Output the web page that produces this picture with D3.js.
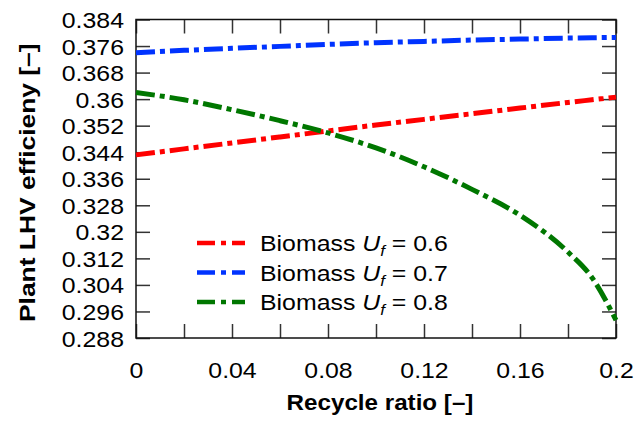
<!DOCTYPE html>
<html>
<head>
<meta charset="utf-8">
<script src="https://cdn.jsdelivr.net/npm/d3@7"></script>
<style>
  html, body { margin: 0; padding: 0; background: #fff; }
  svg { display: block; }
  text { font-family: "Liberation Sans", Arial, sans-serif; fill: #000; }
</style>
</head>
<body>
<svg id="chart" width="637" height="421"></svg>
<script>
// ---- data ----
const recycle = [0, 0.02, 0.04, 0.06, 0.08, 0.10, 0.12, 0.14, 0.16, 0.18, 0.19, 0.20];
const effUf06 = [0.3432, 0.3450, 0.3468, 0.3486, 0.3504, 0.3522, 0.3539, 0.3556, 0.3573, 0.3590, 0.3598, 0.3606];
const effUf07 = [0.3740, 0.3747, 0.3753, 0.3759, 0.3765, 0.3770, 0.3774, 0.3778, 0.3781, 0.3784, 0.3785, 0.3786];
const effUf08 = [0.3620, 0.3598, 0.3568, 0.3535, 0.3498, 0.3453, 0.3396, 0.3328, 0.3250, 0.3139, 0.3062, 0.2934];
const seriesNames = ["0.6", "0.7", "0.8"];
const seriesColors = ["#ff0000", "#0033ff", "#007700"];
const xTickValues = [0, 0.02, 0.04, 0.06, 0.08, 0.10, 0.12, 0.14, 0.16, 0.18, 0.20];
const xLabelValues = [0, 0.04, 0.08, 0.12, 0.16, 0.20];
const xLabelText = ["0", "0.04", "0.08", "0.12", "0.16", "0.2"];
const yTickValues = [0.288, 0.296, 0.304, 0.312, 0.320, 0.328, 0.336, 0.344, 0.352, 0.360, 0.368, 0.376, 0.384];
const yLabelText = ["0.288", "0.296", "0.304", "0.312", "0.32", "0.328", "0.336", "0.344", "0.352", "0.36", "0.368", "0.376", "0.384"];
const xTitle = "Recycle ratio [–]";
const yTitle = "Plant LHV efficieny [–]";

// ---- layout ----
const L = 136, R = 616, T = 19.5, B = 338;
const SX = 1.13; // horizontal text stretch
const svg = d3.select("#chart");

const x = d3.scaleLinear().domain([0, 0.2]).range([L, R]);
const y = d3.scaleLinear().domain([0.288, 0.384]).range([B, T]);

const tickLen = 14;
const tickColor = "#333";

// inward ticks on all four sides
const axB = svg.append("g").attr("transform", `translate(0,${B})`)
  .call(d3.axisBottom(x).tickValues(xTickValues).tickSize(-tickLen).tickFormat(""));
const axT = svg.append("g").attr("transform", `translate(0,${T})`)
  .call(d3.axisTop(x).tickValues(xTickValues).tickSize(-tickLen).tickFormat(""));
const axL = svg.append("g").attr("transform", `translate(${L},0)`)
  .call(d3.axisLeft(y).tickValues(yTickValues).tickSize(-tickLen).tickFormat(""));
const axR = svg.append("g").attr("transform", `translate(${R},0)`)
  .call(d3.axisRight(y).tickValues(yTickValues).tickSize(-tickLen).tickFormat(""));
[axB, axT, axL, axR].forEach(g => {
  g.select(".domain").remove();
  g.selectAll(".tick line").attr("stroke", tickColor).attr("stroke-width", 1.5);
});

// labels
const labB = svg.append("g").attr("transform", `translate(0,${B})`)
  .call(d3.axisBottom(x).tickValues(xLabelValues).tickSize(0).tickPadding(0)
        .tickFormat((d, i) => xLabelText[i]));
labB.select(".domain").remove();
labB.selectAll(".tick text")
  .attr("y", 0).attr("dy", null)
  .attr("transform", `translate(0,40) scale(${SX},1)`)
  .attr("font-size", 22).attr("font-family", "Liberation Sans, Arial, sans-serif").attr("fill", "#000");

const labL = svg.append("g").attr("transform", `translate(${L},0)`)
  .call(d3.axisLeft(y).tickValues(yTickValues).tickSize(0).tickPadding(0)
        .tickFormat((d, i) => yLabelText[i]));
labL.select(".domain").remove();
labL.selectAll(".tick text")
  .attr("x", 0).attr("dy", null).attr("y", 0)
  .attr("transform", `translate(-12,8) scale(${SX},1)`)
  .attr("font-size", 22).attr("font-family", "Liberation Sans, Arial, sans-serif").attr("fill", "#000");

// frame
svg.append("rect").attr("x", L).attr("y", T).attr("width", R - L).attr("height", B - T)
  .attr("fill", "none").attr("stroke", "#111").attr("stroke-width", 1.5);

// lines
const dash = "19,5,5,5";
const series = [effUf06, effUf07, effUf08];
const line = d3.line().x((d, i) => x(recycle[i])).y(d => y(d)).curve(d3.curveMonotoneX);
series.forEach((s, k) => {
  svg.append("path").datum(s).attr("d", line)
    .attr("fill", "none").attr("stroke", seriesColors[k]).attr("stroke-width", 5)
    .attr("stroke-dasharray", dash);
});

// legend
const legX0 = 197, legX1 = 245, legTextX = 260, legBase = 251, legStep = 29.5;
seriesNames.forEach((nm, k) => {
  const by = legBase + k * legStep;
  svg.append("line").attr("x1", legX0).attr("x2", legX1).attr("y1", by - 8).attr("y2", by - 8)
    .attr("stroke", seriesColors[k]).attr("stroke-width", 4.5).attr("stroke-dasharray", "18,6,5,6");
  const t = svg.append("text").attr("transform", `translate(${legTextX},${by}) scale(${SX},1)`)
    .attr("font-size", 22);
  t.append("tspan").text("Biomass ");
  t.append("tspan").attr("font-style", "italic").text("U");
  t.append("tspan").attr("font-style", "italic").attr("font-size", 15).attr("dy", 5).text("f");
  t.append("tspan").attr("dy", -5).text(" = " + nm);
});

// titles
svg.append("text").attr("transform", `translate(${(L + R) / 2 + 4},${410}) scale(1.1,1)`)
  .attr("text-anchor", "middle").attr("font-size", 22).attr("font-weight", "bold").text(xTitle);
svg.append("text").attr("transform", `translate(35,${(T + B) / 2 + 4}) rotate(-90) scale(1.2,1)`)
  .attr("text-anchor", "middle").attr("font-size", 22).attr("font-weight", "bold").text(yTitle);
</script>
</body>
</html>
